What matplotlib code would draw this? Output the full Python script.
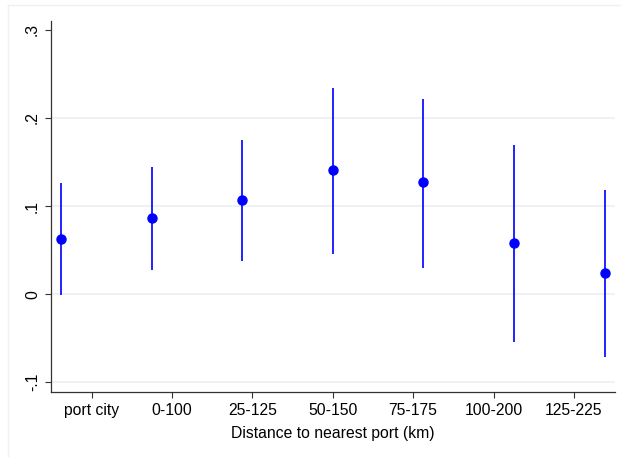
import numpy as np
import matplotlib.pyplot as plt
from matplotlib.lines import Line2D

# --- data ---
categories = ['port city', '0-100', '25-125', '50-150', '75-175', '100-200', '125-225']
coef = [0.0625, 0.086, 0.107, 0.141, 0.127, 0.0576, 0.0239]
ci_low = [-0.001, 0.028, 0.0375, 0.046, 0.030, -0.0545, -0.0712]
ci_high = [0.126, 0.144, 0.175, 0.2337, 0.222, 0.169, 0.118]
yticks = [-0.1, 0.0, 0.1, 0.2, 0.3]
ytick_labels = ['-.1', '0', '.1', '.2', '.3']

plt.rcParams['font.family'] = ['Liberation Sans', 'DejaVu Sans']

fig = plt.figure(figsize=(6.21, 4.57), dpi=100)
ax = fig.add_axes([51 / 621, 65 / 457, 564 / 621, 371 / 457])

# light outer frame (left and top only, as in the original crop)
frame_col = '#eef1f1'
fig.add_artist(Line2D([7.5 / 621, 7.5 / 621], [0, 1 - 4.5 / 457], color=frame_col, lw=1))
fig.add_artist(Line2D([7.5 / 621, 1], [1 - 4.5 / 457, 1 - 4.5 / 457], color=frame_col, lw=1))

x = np.arange(len(categories))
y = np.array(coef)
lo = np.array(ci_low)
hi = np.array(ci_high)

for g in yticks[:-1]:
    ax.axhline(g, color='#eaf0f2', lw=1.2, zorder=0)

ax.vlines(x, lo, hi, color='#1010ff', lw=1.3, zorder=2)
ax.plot(x, y, 'o', color='#0000ff', ms=6.5, zorder=3)

# tick labels sit on a slightly different spacing than the points
tick_pos = 0.339 + 0.887 * np.arange(len(categories))
ax.set_xticks(tick_pos)
ax.set_xticklabels(categories, fontsize=11.3)
ax.set_xlim(-0.110, 6.115)

ax.set_yticks(yticks)
ax.set_yticklabels(ytick_labels, fontsize=11.3, rotation=90, va='center')
ax.set_ylim(-0.111, 0.310)

ax.set_xlabel('Distance to nearest port (km)', fontsize=11.3, labelpad=6)

for s in ['top', 'right']:
    ax.spines[s].set_visible(False)
for s in ['left', 'bottom']:
    ax.spines[s].set_color('#333333')
    ax.spines[s].set_linewidth(0.9)
ax.tick_params(axis='both', length=4, width=0.8, color='#333333', pad=4)

fig.savefig('out.png', dpi=100)
